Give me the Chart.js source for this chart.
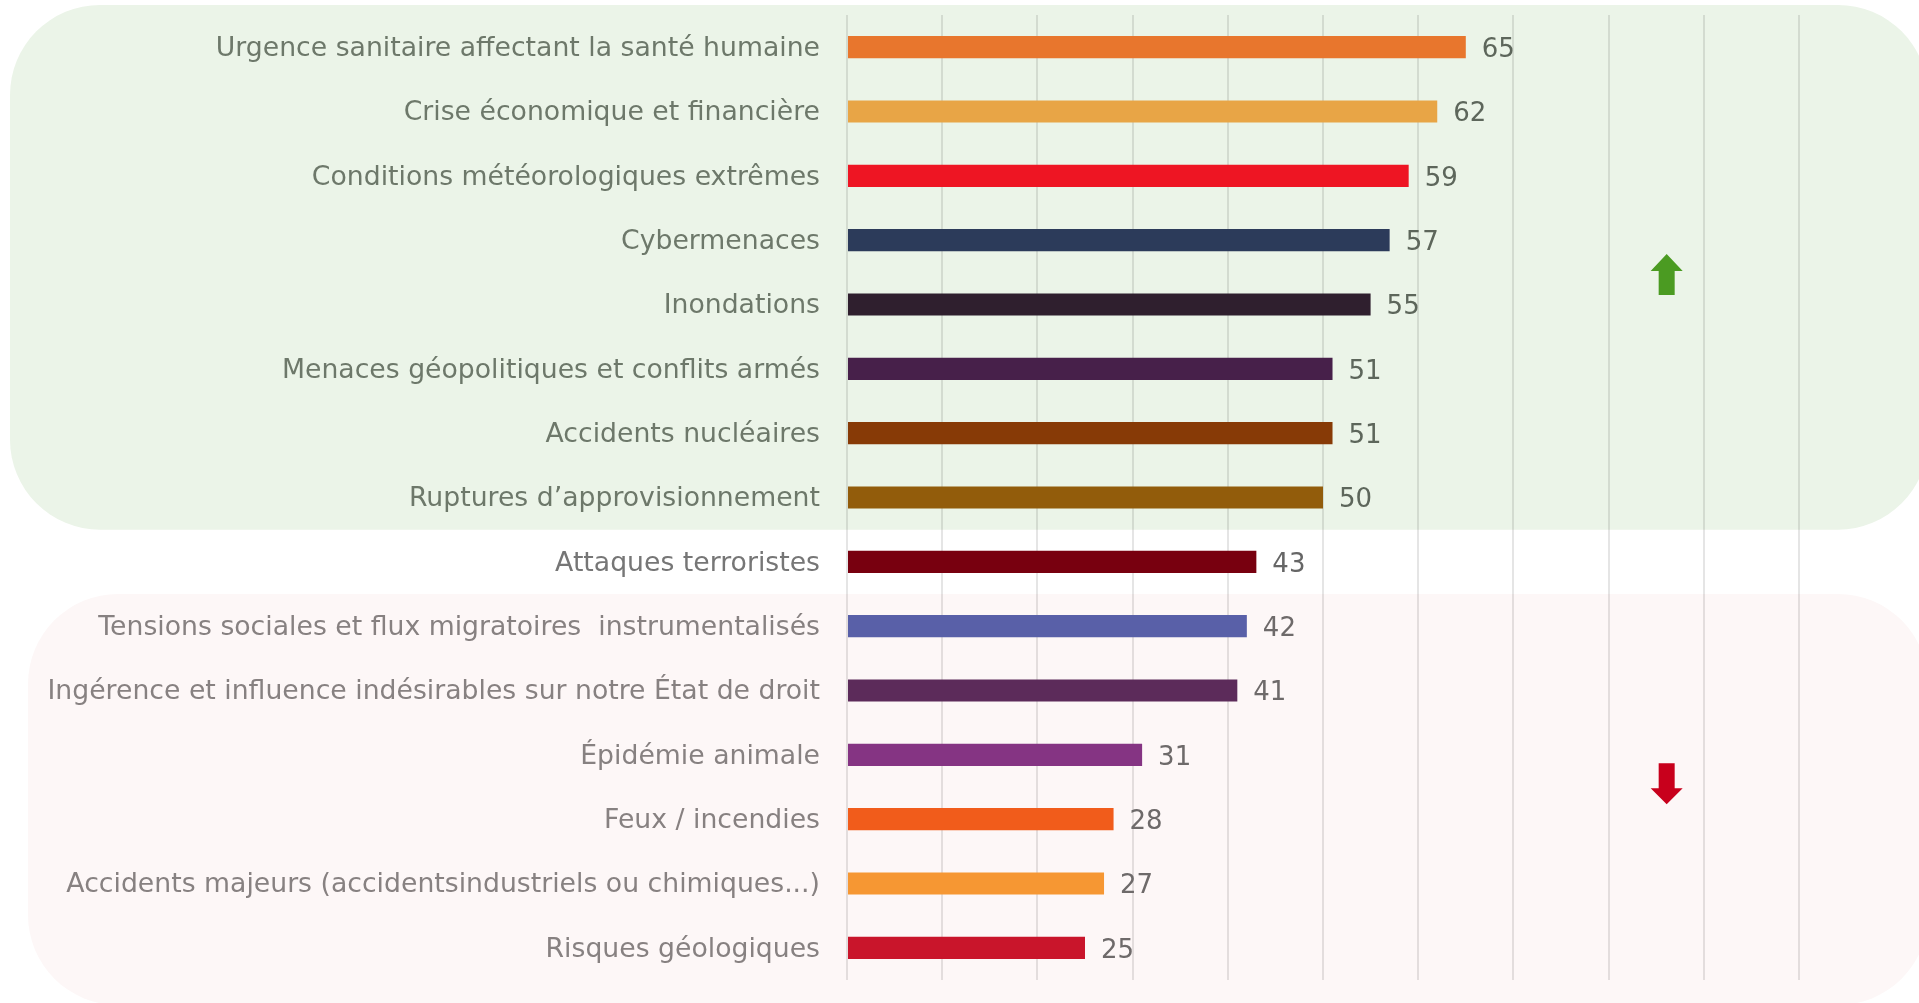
<!DOCTYPE html>
<html lang="fr">
<head>
    <meta charset="UTF-8">
    <title>Risques</title>
    <script src="https://cdn.jsdelivr.net/npm/chart.js"></script>
    <style>
        html, body { margin: 0; padding: 0; background: #ffffff; }
        #wrap { width: 1919px; height: 1003px; }
    </style>
</head>
<body>
    <div id="wrap"><canvas id="riskChart" width="1919" height="1003"></canvas></div>

    <script>
        // Data
        const categories = [
            "Urgence sanitaire affectant la santé humaine",
            "Crise économique et financière",
            "Conditions météorologiques extrêmes",
            "Cybermenaces",
            "Inondations",
            "Menaces géopolitiques et conflits armés",
            "Accidents nucléaires",
            "Ruptures d’approvisionnement",
            "Attaques terroristes",
            "Tensions sociales et flux migratoires  instrumentalisés",
            "Ingérence et influence indésirables sur notre État de droit",
            "Épidémie animale",
            "Feux / incendies",
            "Accidents majeurs (accidentsindustriels ou chimiques...)",
            "Risques géologiques"
        ];
        const values = [65, 62, 59, 57, 55, 51, 51, 50, 43, 42, 41, 31, 28, 27, 25];
        const barColors = [
            "#e8762d", "#e8a546", "#ee1523", "#2c3b5a", "#2f1f2e",
            "#47204a", "#873a06", "#925c0b", "#78000f", "#5960a8",
            "#5c2b5a", "#853483", "#f15c1b", "#f69733", "#c9152b"
        ];
        const xTicks = [0, 10, 20, 30, 40, 50, 60, 70, 80, 90, 100];

        // groups: first 8 rising (green), last 6 falling (pink)
        const upLast = 7;
        const downFirst = 9;

        const font = "'DejaVu Sans', Verdana, sans-serif";

        function labelColor(i) {
            if (i <= upLast) return "#6d786a";
            if (i >= downFirst) return "#878181";
            return "#767676";
        }
        function valueColor(i) {
            if (i <= upLast) return "#5d665b";
            if (i >= downFirst) return "#6e6a6a";
            return "#666666";
        }

        function roundRect(ctx, x, y, w, h, r) {
            ctx.beginPath();
            ctx.moveTo(x + r, y);
            ctx.arcTo(x + w, y, x + w, y + h, r);
            ctx.arcTo(x + w, y + h, x, y + h, r);
            ctx.arcTo(x, y + h, x, y, r);
            ctx.arcTo(x, y, x + w, y, r);
            ctx.closePath();
        }

        // Rounded background bands behind the two groups
        const bandsPlugin = {
            id: "bands",
            beforeDraw(chart) {
                const ctx = chart.ctx;
                const yS = chart.scales.y;
                const area = chart.chartArea;
                const greenBottom = yS.getPixelForValue(upLast + 0.5);
                const pinkTop = yS.getPixelForValue(downFirst - 0.5);
                ctx.save();
                ctx.fillStyle = "#ebf4e8";
                roundRect(ctx, 10, area.top - 10, 1918, greenBottom - area.top + 10, 90);
                ctx.fill();
                ctx.fillStyle = "#fdf7f7";
                roundRect(ctx, 28, pinkTop, 1900, chart.height - pinkTop + 2, 90);
                ctx.fill();
                ctx.restore();
            }
        };

        // Value labels after each bar, and the up / down arrows
        const overlayPlugin = {
            id: "overlay",
            afterDatasetsDraw(chart) {
                const ctx = chart.ctx;
                const meta = chart.getDatasetMeta(0);
                ctx.save();
                ctx.font = "26px " + font;
                ctx.textAlign = "left";
                ctx.textBaseline = "middle";
                meta.data.forEach((bar, i) => {
                    ctx.fillStyle = valueColor(i);
                    ctx.fillText(values[i], bar.x + 16, bar.y + 3);
                });

                const xS = chart.scales.x;
                const yS = chart.scales.y;
                const ax = xS.getPixelForValue(86.1);

                // up arrow
                let cy = yS.getPixelForValue(3.54);
                ctx.fillStyle = "#4b9b22";
                ctx.beginPath();
                ctx.moveTo(ax, cy - 21);
                ctx.lineTo(ax + 16, cy - 4);
                ctx.lineTo(ax + 8, cy - 4);
                ctx.lineTo(ax + 8, cy + 20);
                ctx.lineTo(ax - 8, cy + 20);
                ctx.lineTo(ax - 8, cy - 4);
                ctx.lineTo(ax - 16, cy - 4);
                ctx.closePath();
                ctx.fill();

                // down arrow
                cy = yS.getPixelForValue(11.44);
                ctx.fillStyle = "#c8001c";
                ctx.beginPath();
                ctx.moveTo(ax, cy + 21);
                ctx.lineTo(ax + 16, cy + 5);
                ctx.lineTo(ax + 8, cy + 5);
                ctx.lineTo(ax + 8, cy - 20);
                ctx.lineTo(ax - 8, cy - 20);
                ctx.lineTo(ax - 8, cy + 5);
                ctx.lineTo(ax - 16, cy + 5);
                ctx.closePath();
                ctx.fill();
                ctx.restore();
            }
        };

        const ctx = document.getElementById("riskChart").getContext("2d");
        new Chart(ctx, {
            type: "bar",
            data: {
                labels: categories,
                datasets: [{
                    data: values,
                    backgroundColor: barColors,
                    borderWidth: 0,
                    barPercentage: 0.345,
                    categoryPercentage: 1
                }]
            },
            options: {
                indexAxis: "y",
                responsive: false,
                devicePixelRatio: 1,
                animation: false,
                layout: { padding: { top: 15, bottom: 23, right: 120, left: 0 } },
                plugins: {
                    legend: { display: false },
                    tooltip: { enabled: false }
                },
                scales: {
                    x: {
                        min: 0,
                        max: 100,
                        afterBuildTicks: (s) => { s.ticks = xTicks.map(v => ({ value: v })); },
                        ticks: { display: false },
                        grid: { color: "rgba(0,0,0,0.1)", lineWidth: 2, drawTicks: false },
                        border: { display: false }
                    },
                    y: {
                        afterFit: (s) => {
                            s.width = 847;
                            s.paddingTop = 0;
                            s.paddingBottom = 0;
                        },
                        grid: { display: false, drawTicks: true, tickLength: 27 },
                        border: { display: false },
                        ticks: {
                            padding: 0,
                            labelOffset: 2,
                            color: (c) => labelColor(c.index),
                            font: { family: font, size: 26.7 }
                        }
                    }
                }
            },
            plugins: [bandsPlugin, overlayPlugin]
        });
    </script>
</body>
</html>
